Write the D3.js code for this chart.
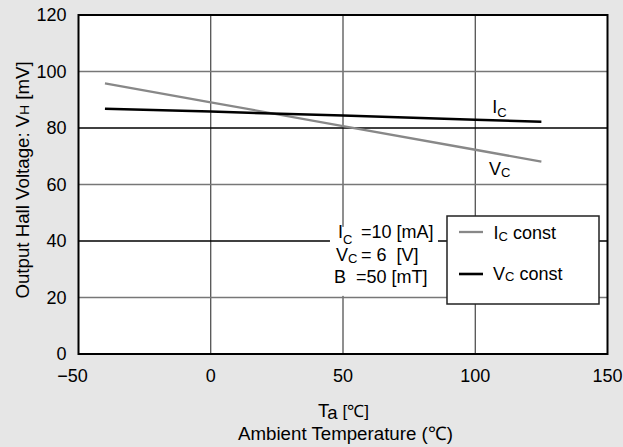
<!DOCTYPE html>
<html>
<head>
<meta charset="utf-8">
<script src="https://cdn.jsdelivr.net/npm/d3@7"></script>
<style>
  body { margin: 0; background: #e6e6e6; }
  svg { display: block; font-family: "Liberation Sans", Arial, sans-serif; }
</style>
</head>
<body>
<script>
// ambient temperature [degC]
var temps = [-40, 0, 50, 100, 125];
// output hall voltage [mV]
var icConst = [95.8, 89.1, 80.7, 72.3, 68.1];   // grey
var vcConst = [86.8, 85.8, 84.4, 82.9, 82.2];   // black

var xTicks = [-50, 0, 50, 100, 150];
var yTicks = [0, 20, 40, 60, 80, 100, 120];

var width = 623, height = 447;
var plotL = 78.5, plotR = 607.5, plotT = 15, plotB = 354;

var x = d3.scaleLinear().domain([-50, 150]).range([plotL, plotR]);
var y = d3.scaleLinear().domain([0, 120]).range([plotB, plotT]);

var svg = d3.select("body").append("svg")
  .attr("width", width)
  .attr("height", height);

svg.append("rect")
  .attr("x", plotL).attr("y", plotT)
  .attr("width", plotR - plotL).attr("height", plotB - plotT)
  .attr("fill", "#fff");

// grid
svg.append("g")
  .selectAll("line")
  .data(xTicks.slice(1, -1))
  .enter().append("line")
  .attr("x1", d => x(d)).attr("x2", d => x(d))
  .attr("y1", plotT).attr("y2", plotB)
  .attr("stroke", "#333").attr("stroke-width", 1.1);

svg.append("g")
  .selectAll("line")
  .data(yTicks.slice(1, -1))
  .enter().append("line")
  .attr("x1", plotL).attr("x2", plotR)
  .attr("y1", d => y(d)).attr("y2", d => y(d))
  .attr("stroke", d => (d / 20) % 2 ? "#777" : "#000")
  .attr("stroke-width", 1.4);

// curves
var line = d3.line()
  .x((d, i) => x(temps[i]))
  .y(d => y(d));

svg.append("path")
  .datum(icConst)
  .attr("d", line)
  .attr("fill", "none")
  .attr("stroke", "#888")
  .attr("stroke-width", 2.3);

svg.append("path")
  .datum(vcConst)
  .attr("d", line)
  .attr("fill", "none")
  .attr("stroke", "#000")
  .attr("stroke-width", 2.5);

// frame
svg.append("rect")
  .attr("x", plotL).attr("y", plotT)
  .attr("width", plotR - plotL).attr("height", plotB - plotT)
  .attr("fill", "none")
  .attr("stroke", "#000").attr("stroke-width", 2);

// tick labels
svg.append("g")
  .selectAll("text")
  .data(yTicks)
  .enter().append("text")
  .attr("x", plotL - 12)
  .attr("y", d => y(d))
  .attr("dy", "0.36em")
  .attr("text-anchor", "end")
  .attr("font-size", 18)
  .text(d => d);

svg.append("g")
  .selectAll("text")
  .data(xTicks)
  .enter().append("text")
  .attr("x", d => x(d))
  .attr("dx", d => d < 0 ? -6 : 0)
  .attr("y", plotB + 27.5)
  .attr("text-anchor", "middle")
  .attr("font-size", 18)
  .text(d => d < 0 ? "\u2212" + Math.abs(d) : d);

// subscript helper: main letter, then a smaller lowered letter
function subLabel(g, px, py, main, sub, rest, drop, restX) {
  var t = g.append("text").attr("x", px).attr("y", py).attr("font-size", 18)
    .attr("xml:space", "preserve");
  t.append("tspan").text(main);
  t.append("tspan").attr("font-size", 13).attr("dy", drop).text(sub);
  if (rest) {
    var r = t.append("tspan").attr("dy", -drop).text(rest);
    if (restX != null) r.attr("x", px + restX);
  }
  return t;
}

// line labels
subLabel(svg, x(106.4), y(85.3), "I", "C", null, 3.5);
subLabel(svg, x(105.2), y(63.4), "V", "C", null, 2.5);

// condition block
var ax = x(48.1), ay = y(41.1);
var ann = svg.append("g").attr("transform", "translate(" + ax + "," + ay + ")");
ann.append("rect")
  .attr("x", -8).attr("y", -11).attr("width", 108).attr("height", 69)
  .attr("fill", "#fff");
subLabel(ann, 0, 0, "I", "C", "=10 [mA]", 6, 23);
subLabel(ann, -2, 23, "V", "C", "= 6  [V]", 2, 25);
ann.append("text").attr("x", -4).attr("y", 45).attr("font-size", 18)
  .attr("xml:space", "preserve")
  .text("B  =50 [mT]");

// legend
var lg = svg.append("g").attr("transform", "translate(447,216)");
lg.append("rect")
  .attr("width", 152).attr("height", 88)
  .attr("fill", "#fff").attr("stroke", "#222").attr("stroke-width", 1.5);
lg.append("line").attr("x1", 12).attr("x2", 36).attr("y1", 16).attr("y2", 16)
  .attr("stroke", "#888").attr("stroke-width", 2.3);
lg.append("line").attr("x1", 12).attr("x2", 36).attr("y1", 58).attr("y2", 58)
  .attr("stroke", "#000").attr("stroke-width", 2.6);
subLabel(lg, 46.5, 22.5, "I", "C", " const", 2);
subLabel(lg, 46, 63.5, "V", "C", " const", 1.5);

// axis titles
var xt = svg.append("text")
  .attr("x", 343.5).attr("y", 416.5)
  .attr("text-anchor", "middle")
  .attr("font-size", 18.5);
xt.append("tspan").text("T");
xt.append("tspan").attr("dy", 2.5).text("a ");
xt.append("tspan").attr("dy", -2.5).attr("font-size", 17).text("[\u2103]");

svg.append("text")
  .attr("x", 345.5).attr("y", 440)
  .attr("text-anchor", "middle")
  .attr("font-size", 18.7)
  .text("Ambient Temperature (\u2103)");

var yt = svg.append("text")
  .attr("transform", "translate(29,180) rotate(-90)")
  .attr("text-anchor", "middle")
  .attr("font-size", 18.7);
yt.append("tspan").text("Output Hall Voltage: V");
yt.append("tspan").attr("font-size", 13.5).text("H");
yt.append("tspan").text(" [mV]");
</script>
</body>
</html>
